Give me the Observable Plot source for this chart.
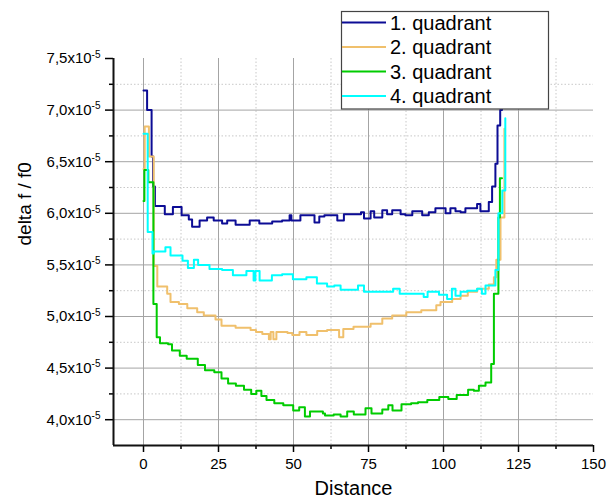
<!DOCTYPE html>
<html>
<head>
<meta charset="utf-8">
<script src="https://cdn.jsdelivr.net/npm/d3@7"></script>
<script src="https://cdn.jsdelivr.net/npm/@observablehq/plot@0.6"></script>
<style>
  body { margin: 0; background: #fff; }
  #chart { position: relative; width: 607px; height: 504px; }
</style>
</head>
<body>
<div id="chart"></div>
<script>
// Values are in units of 1e-5 (delta f / f0)
const seriesNames = ["1. quadrant", "2. quadrant", "3. quadrant", "4. quadrant"];
const seriesColors = ["#0c0c95", "#f0c06c", "#00cc00", "#00ffff"];

const xTicks = [0, 25, 50, 75, 100, 125, 150];
const xMinor = [12.5, 37.5, 62.5, 87.5, 112.5, 137.5];
const yTicks = [4, 4.5, 5, 5.5, 6, 6.5, 7, 7.5];
const yMinor = [4.25, 4.75, 5.25, 5.75, 6.25, 6.75, 7.25];
const yExponent = "-5";
const xTitle = "Distance";
const yTitle = "delta f / f0";

// [distance, value] step points
const q1 = [[0,7.19],[1.2,7.00],[2.7,6.55],[3.2,6.26],[3.8,6.07],[7.1,5.99],[9.8,6.06],[12.7,5.98],[15.1,5.94],[16.2,5.87],[18.7,5.93],[21.2,5.96],[23.4,5.93],[26.2,5.90],[27.9,5.93],[30.7,5.89],[35.4,5.93],[38.6,5.90],[42.9,5.92],[46.2,5.93],[48.7,5.98],[49.3,5.93],[52.3,5.98],[57.0,5.91],[58.6,5.97],[60.3,5.98],[64.6,5.93],[66.8,5.99],[72.5,6.01],[73.5,5.95],[75.7,6.02],[76.9,5.96],[79.6,6.03],[81.2,5.99],[82.9,6.03],[85.7,5.99],[87.3,5.98],[89.6,6.02],[92.9,5.98],[95.1,6.01],[97.3,6.05],[100.7,6.00],[102.3,6.05],[104.0,6.02],[105.7,6.01],[107.3,6.05],[111.2,6.09],[112.3,6.02],[115.1,6.11],[116.2,6.26],[117.3,6.48],[118.0,6.85],[118.9,7.00],[119.5,7.35]];

const q2 = [[0,6.43],[0.4,6.84],[1.8,6.55],[3.4,5.49],[4.6,5.29],[7.9,5.22],[9.0,5.14],[11.8,5.12],[14.6,5.08],[17.9,5.04],[20.1,5.01],[24.0,4.97],[26.0,4.91],[30.7,4.89],[35.7,4.87],[37.5,4.85],[39.6,4.83],[41.8,4.78],[42.4,4.85],[43.3,4.78],[44.3,4.85],[48.0,4.84],[49.6,4.82],[52.0,4.85],[54.3,4.82],[57.9,4.86],[61.2,4.87],[65.2,4.80],[66.6,4.88],[70.0,4.90],[75.7,4.93],[79.6,4.98],[82.9,5.01],[87.6,5.04],[92.6,5.06],[97.6,5.11],[99.0,5.14],[102.9,5.17],[105.7,5.20],[108.1,5.24],[111.2,5.27],[115.1,5.31],[116.8,5.38],[117.6,5.55],[119.0,5.96],[120.3,6.82]];

const q3 = [[0,6.12],[0.3,6.42],[1.6,6.30],[3.3,5.12],[4.4,4.80],[5.5,4.74],[8.2,4.73],[9.5,4.67],[12.1,4.62],[14.4,4.59],[18.1,4.53],[20.5,4.48],[23.6,4.46],[26.0,4.40],[28.2,4.35],[30.8,4.33],[33.5,4.29],[35.9,4.25],[37.6,4.28],[39.3,4.23],[41.0,4.19],[43.6,4.16],[46.6,4.14],[49.9,4.09],[51.9,4.12],[53.8,4.03],[55.5,4.08],[59.8,4.06],[60.5,4.04],[63.4,4.05],[65.7,4.03],[67.9,4.08],[70.1,4.05],[74.0,4.11],[76.0,4.06],[79.6,4.10],[81.6,4.14],[83.0,4.09],[86.0,4.15],[89.2,4.16],[91.5,4.17],[94.6,4.19],[98.6,4.22],[101.6,4.20],[104.4,4.24],[108.2,4.29],[110.1,4.28],[111.8,4.33],[114.0,4.36],[115.9,4.54],[116.8,5.22],[118.3,5.96],[118.8,6.34],[119.5,6.34]];

const q4 = [[0,6.77],[1.4,5.82],[3.0,5.61],[3.4,5.63],[7.3,5.67],[9.0,5.59],[13.0,5.54],[14.8,5.47],[16.8,5.55],[18.2,5.50],[22.0,5.46],[26.2,5.45],[29.8,5.40],[34.3,5.44],[36.7,5.35],[37.3,5.44],[38.7,5.35],[42.8,5.40],[46.2,5.41],[49.8,5.36],[54.3,5.38],[57.8,5.32],[61.2,5.29],[63.6,5.30],[65.7,5.26],[71.5,5.30],[73.5,5.24],[83.2,5.27],[85.4,5.22],[93.4,5.19],[94.7,5.24],[98.5,5.21],[101.2,5.17],[102.8,5.27],[104.0,5.20],[105.7,5.24],[107.9,5.25],[111.2,5.27],[112.8,5.22],[114.0,5.30],[117.3,5.45],[118.3,6.00],[119.6,6.22],[120.6,6.92]];

const allSeries = [q1, q2, q3, q4];

const FONT = '"Liberation Sans", Arial, sans-serif';

const lineMarks = allSeries.map((s, i) =>
  Plot.line(s, {x: d => d[0], y: d => d[1], curve: "step-after", stroke: seriesColors[i], strokeWidth: 2})
);

const plot = Plot.plot({
  width: 607,
  height: 504,
  marginLeft: 113,
  marginRight: 14,
  marginTop: 58,
  marginBottom: 59,
  style: {fontFamily: FONT, fontSize: "15px", color: "#000", background: "#fff", overflow: "visible"},
  x: {domain: [-10, 150]},
  y: {domain: [3.75, 7.5]},
  marks: [
    Plot.gridX(xMinor, {stroke: "#c8c8c8", strokeOpacity: 1, strokeDasharray: "1.5,2"}),
    Plot.gridY(yMinor, {stroke: "#c8c8c8", strokeOpacity: 1, strokeDasharray: "1.5,2"}),
    Plot.gridX(xTicks.filter(v => v < 150), {stroke: "#a4a4a4", strokeOpacity: 1}),
    Plot.gridY(yTicks.filter(v => v < 7.5), {stroke: "#a4a4a4", strokeOpacity: 1}),
    ...lineMarks,
    Plot.axisX(xTicks, {tickSize: 7, tickPadding: 6, strokeWidth: 1.5, label: null, fontSize: 15}),
    Plot.axisX(xMinor, {tickSize: 4, strokeWidth: 1.5, tickFormat: () => "", label: null}),
    Plot.axisY(yTicks, {tickSize: 8, tickPadding: 5, strokeWidth: 1.5, label: null, fontSize: 15,
      tickFormat: d => d.toFixed(1).replace(".", ",") + "x10"}),
    Plot.axisY(yMinor, {tickSize: 4, strokeWidth: 1.5, tickFormat: () => "", label: null}),
    Plot.ruleX([-10], {stroke: "#111", strokeWidth: 2}),
    Plot.ruleY([3.75], {stroke: "#111", strokeWidth: 2}),
    Plot.text([xTitle], {frameAnchor: "bottom", dy: 49.6, fontSize: 20}),
    Plot.text([yTitle], {frameAnchor: "left", dx: -89, dy: -6.5, rotate: -90, fontSize: 19})
  ]
});

document.getElementById("chart").appendChild(plot);

// superscript exponent on y tick labels
d3.select(plot).selectAll('g[aria-label="y-axis tick label"] text')
  .filter(function() { return this.textContent.trim() !== ""; })
  .each(function() {
    d3.select(this).append("tspan").attr("dy", "-0.55em").attr("font-size", "10px").text(yExponent);
  });

// legend box (on top of the plot)
const lg = d3.select(plot).append("g").attr("font-family", FONT).attr("text-anchor", "start");
lg.append("rect").attr("x", 341.5).attr("y", 11.5).attr("width", 207).attr("height", 97.5)
  .attr("fill", "#fff").attr("stroke", "#444").attr("stroke-width", 1.2);
seriesNames.forEach((name, i) => {
  const y = 22.5 + i * 24.5;
  lg.append("line").attr("x1", 342).attr("x2", 386).attr("y1", y).attr("y2", y)
    .attr("stroke", seriesColors[i]).attr("stroke-width", 2);
  lg.append("text").attr("x", 390).attr("y", y + 7).attr("font-size", 20)
    .attr("text-anchor", "start").attr("fill", "#000").text(name);
});
</script>
</body>
</html>
